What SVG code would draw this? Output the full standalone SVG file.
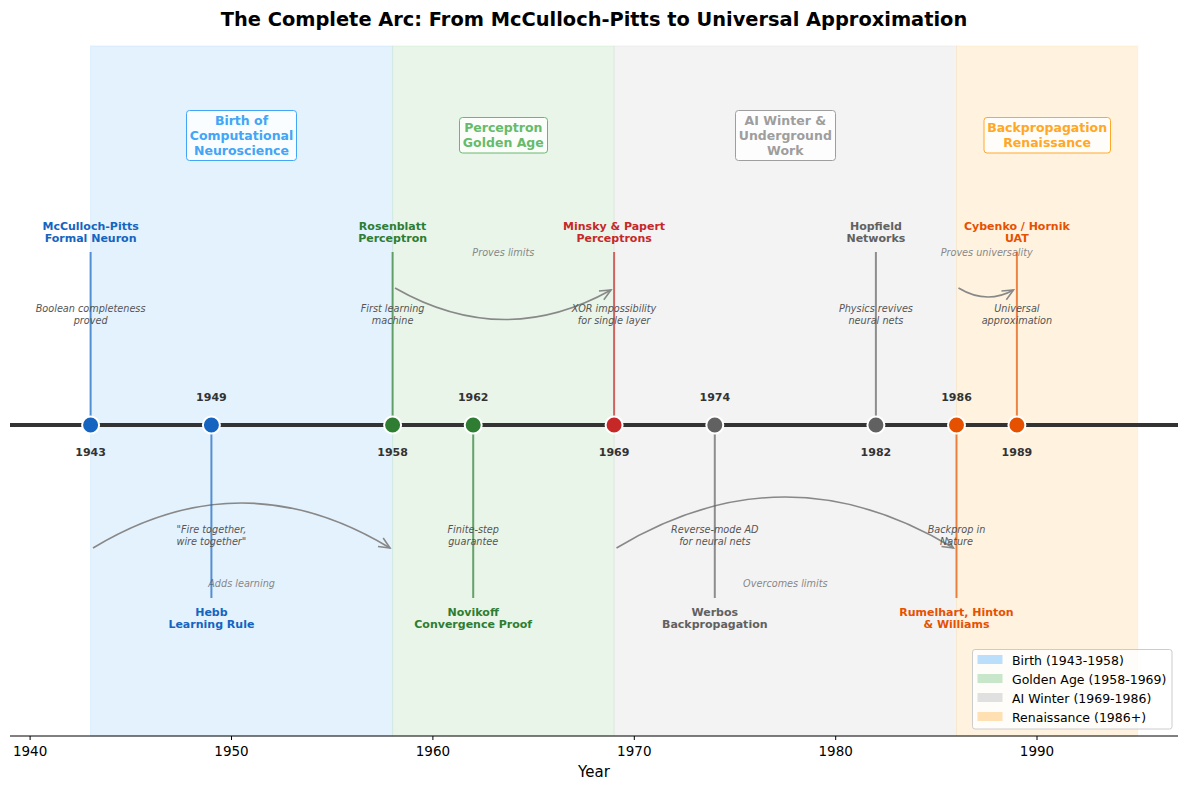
<svg xmlns="http://www.w3.org/2000/svg" width="1188" height="790" viewBox="0 0 1188 790">
<style>
text{font-family:"DejaVu Sans","Liberation Sans",sans-serif}
.title{font-size:19.4px;font-weight:bold;fill:#000}
.lbl{font-size:11px;font-weight:bold;text-anchor:middle}
.desc{font-size:9.7px;font-style:italic;fill:#555;text-anchor:middle}
.yr{font-size:11px;font-weight:bold;fill:#333;text-anchor:middle}
.arcl{font-size:9.7px;font-style:italic;fill:#888;text-anchor:middle}
.era{font-size:12.5px;font-weight:bold;text-anchor:middle}
.tick{font-size:13.5px;fill:#000;text-anchor:middle}
.leg{font-size:12.5px;fill:#000}
.arc{fill:none;stroke:#888;stroke-width:1.6}
.stem{stroke-width:2;stroke-opacity:0.7}
.dot{stroke:#fff;stroke-width:2}
</style>
<defs>
<marker id="ah" markerUnits="userSpaceOnUse" markerWidth="14" markerHeight="14" viewBox="-12 -6 14 12" refX="0" refY="0" orient="auto">
<path d="M-11,-5 L0,0 L-11,5" fill="none" stroke="#888" stroke-width="1.6"/>
</marker>
</defs>
<rect width="1188" height="790" fill="#fff"/>
<text class="title" x="594" y="25.5" text-anchor="middle">The Complete Arc: From McCulloch-Pitts to Universal Approximation</text>

<g id="spans">
<rect x="90.6" y="46" width="302" height="690" fill="#BBDEFB" fill-opacity="0.4" stroke="#BBDEFB" stroke-opacity="0.4"/>
<rect x="392.6" y="46" width="221.5" height="690" fill="#C8E6C9" fill-opacity="0.4" stroke="#C8E6C9" stroke-opacity="0.4"/>
<rect x="614.1" y="46" width="342.4" height="690" fill="#E0E0E0" fill-opacity="0.4" stroke="#E0E0E0" stroke-opacity="0.4"/>
<rect x="956.5" y="46" width="181.2" height="690" fill="#FFE0B2" fill-opacity="0.4" stroke="#FFE0B2" stroke-opacity="0.4"/>
</g>

<g id="axis">
<line x1="10" y1="736" x2="1178" y2="736" stroke="#000" stroke-width="1"/>
<g stroke="#000" stroke-width="1">
<line x1="30.1" y1="736" x2="30.1" y2="740"/>
<line x1="231.5" y1="736" x2="231.5" y2="740"/>
<line x1="432.9" y1="736" x2="432.9" y2="740"/>
<line x1="634.3" y1="736" x2="634.3" y2="740"/>
<line x1="835.7" y1="736" x2="835.7" y2="740"/>
<line x1="1037" y1="736" x2="1037" y2="740"/>
</g>
<text class="tick" x="30.1" y="756">1940</text>
<text class="tick" x="231.5" y="756">1950</text>
<text class="tick" x="432.9" y="756">1960</text>
<text class="tick" x="634.3" y="756">1970</text>
<text class="tick" x="835.7" y="756">1980</text>
<text class="tick" x="1037" y="756">1990</text>
<text x="594" y="777" font-size="15px" text-anchor="middle">Year</text>
</g>

<g id="eras">
<g id="era-birth">
<rect x="186.5" y="110.5" width="110" height="50" rx="3" fill="#fff" fill-opacity="0.8" stroke="#42A5F5" stroke-width="1"/>
<text class="era" fill="#42A5F5"><tspan x="241.5" y="124.5">Birth of</tspan><tspan x="241.5" y="139.5">Computational</tspan><tspan x="241.5" y="154.5">Neuroscience</tspan></text>
</g>
<g id="era-golden">
<rect x="459.5" y="117.5" width="88" height="35.5" rx="3" fill="#fff" fill-opacity="0.8" stroke="#66BB6A" stroke-width="1"/>
<text class="era" fill="#66BB6A"><tspan x="503.3" y="132">Perceptron</tspan><tspan x="503.3" y="147">Golden Age</tspan></text>
</g>
<g id="era-winter">
<rect x="735.5" y="110.5" width="100" height="50" rx="3" fill="#fff" fill-opacity="0.8" stroke="#9E9E9E" stroke-width="1"/>
<text class="era" fill="#9E9E9E"><tspan x="785.3" y="124.5">AI Winter &amp;</tspan><tspan x="785.3" y="139.5">Underground</tspan><tspan x="785.3" y="154.5">Work</tspan></text>
</g>
<g id="era-renaissance">
<rect x="984" y="117.5" width="126.5" height="35.5" rx="3" fill="#fff" fill-opacity="0.8" stroke="#FFA726" stroke-width="1"/>
<text class="era" fill="#FFA726"><tspan x="1047.1" y="132">Backpropagation</tspan><tspan x="1047.1" y="147">Renaissance</tspan></text>
</g>
</g>

<g id="connectors">
<path class="arc" d="M93,548 Q241.6,458 390,548" marker-end="url(#ah)"/>
<path class="arc" d="M395,288 Q503.3,350 611,290" marker-end="url(#ah)"/>
<path class="arc" d="M616.5,548 Q785.3,446 953.5,548" marker-end="url(#ah)"/>
<path class="arc" d="M958.5,288 Q986.7,305 1013.5,290" marker-end="url(#ah)"/>
<text class="arcl" x="241.6" y="587">Adds learning</text>
<text class="arcl" x="503.3" y="256">Proves limits</text>
<text class="arcl" x="785.3" y="587">Overcomes limits</text>
<text class="arcl" x="986.7" y="256">Proves universality</text>
</g>

<g id="stems">
<line class="stem" x1="90.6" y1="252" x2="90.6" y2="425" stroke="#1565C0"/>
<line class="stem" x1="211.4" y1="425" x2="211.4" y2="598" stroke="#1565C0"/>
<line class="stem" x1="392.6" y1="252" x2="392.6" y2="425" stroke="#2E7D32"/>
<line class="stem" x1="473.2" y1="425" x2="473.2" y2="598" stroke="#2E7D32"/>
<line class="stem" x1="614.1" y1="252" x2="614.1" y2="425" stroke="#C62828"/>
<line class="stem" x1="714.8" y1="425" x2="714.8" y2="598" stroke="#616161"/>
<line class="stem" x1="875.9" y1="252" x2="875.9" y2="425" stroke="#616161"/>
<line class="stem" x1="956.5" y1="425" x2="956.5" y2="598" stroke="#E65100"/>
<line class="stem" x1="1016.9" y1="252" x2="1016.9" y2="425" stroke="#E65100"/>
</g>

<line id="timeline" x1="10" y1="425" x2="1178" y2="425" stroke="#333" stroke-width="4"/>

<g id="ev-1943">
<circle class="dot" cx="90.6" cy="425" r="8.5" fill="#1565C0"/>
<text class="yr" x="90.6" y="456">1943</text>
<text class="lbl" fill="#1565C0"><tspan x="90.6" y="230">McCulloch-Pitts</tspan><tspan x="90.6" y="241.5">Formal Neuron</tspan></text>
<text class="desc"><tspan x="90.6" y="312">Boolean completeness</tspan><tspan x="90.6" y="323.5">proved</tspan></text>
</g>
<g id="ev-1949">
<circle class="dot" cx="211.4" cy="425" r="8.5" fill="#1565C0"/>
<text class="yr" x="211.4" y="401">1949</text>
<text class="lbl" fill="#1565C0"><tspan x="211.4" y="616">Hebb</tspan><tspan x="211.4" y="627.5">Learning Rule</tspan></text>
<text class="desc"><tspan x="211.4" y="533">"Fire together,</tspan><tspan x="211.4" y="544.5">wire together"</tspan></text>
</g>
<g id="ev-1958">
<circle class="dot" cx="392.6" cy="425" r="8.5" fill="#2E7D32"/>
<text class="yr" x="392.6" y="456">1958</text>
<text class="lbl" fill="#2E7D32"><tspan x="392.6" y="230">Rosenblatt</tspan><tspan x="392.6" y="241.5">Perceptron</tspan></text>
<text class="desc"><tspan x="392.6" y="312">First learning</tspan><tspan x="392.6" y="323.5">machine</tspan></text>
</g>
<g id="ev-1962">
<circle class="dot" cx="473.2" cy="425" r="8.5" fill="#2E7D32"/>
<text class="yr" x="473.2" y="401">1962</text>
<text class="lbl" fill="#2E7D32"><tspan x="473.2" y="616">Novikoff</tspan><tspan x="473.2" y="627.5">Convergence Proof</tspan></text>
<text class="desc"><tspan x="473.2" y="533">Finite-step</tspan><tspan x="473.2" y="544.5">guarantee</tspan></text>
</g>
<g id="ev-1969">
<circle class="dot" cx="614.1" cy="425" r="8.5" fill="#C62828"/>
<text class="yr" x="614.1" y="456">1969</text>
<text class="lbl" fill="#C62828"><tspan x="614.1" y="230">Minsky &amp; Papert</tspan><tspan x="614.1" y="241.5">Perceptrons</tspan></text>
<text class="desc"><tspan x="614.1" y="312">XOR impossibility</tspan><tspan x="614.1" y="323.5">for single layer</tspan></text>
</g>
<g id="ev-1974">
<circle class="dot" cx="714.8" cy="425" r="8.5" fill="#616161"/>
<text class="yr" x="714.8" y="401">1974</text>
<text class="lbl" fill="#616161"><tspan x="714.8" y="616">Werbos</tspan><tspan x="714.8" y="627.5">Backpropagation</tspan></text>
<text class="desc"><tspan x="714.8" y="533">Reverse-mode AD</tspan><tspan x="714.8" y="544.5">for neural nets</tspan></text>
</g>
<g id="ev-1982">
<circle class="dot" cx="875.9" cy="425" r="8.5" fill="#616161"/>
<text class="yr" x="875.9" y="456">1982</text>
<text class="lbl" fill="#616161"><tspan x="875.9" y="230">Hopfield</tspan><tspan x="875.9" y="241.5">Networks</tspan></text>
<text class="desc"><tspan x="875.9" y="312">Physics revives</tspan><tspan x="875.9" y="323.5">neural nets</tspan></text>
</g>
<g id="ev-1986">
<circle class="dot" cx="956.5" cy="425" r="8.5" fill="#E65100"/>
<text class="yr" x="956.5" y="401">1986</text>
<text class="lbl" fill="#E65100"><tspan x="956.5" y="616">Rumelhart, Hinton</tspan><tspan x="956.5" y="627.5">&amp; Williams</tspan></text>
<text class="desc"><tspan x="956.5" y="533">Backprop in</tspan><tspan x="956.5" y="544.5">Nature</tspan></text>
</g>
<g id="ev-1989">
<circle class="dot" cx="1016.9" cy="425" r="8.5" fill="#E65100"/>
<text class="yr" x="1016.9" y="456">1989</text>
<text class="lbl" fill="#E65100"><tspan x="1016.9" y="230">Cybenko / Hornik</tspan><tspan x="1016.9" y="241.5">UAT</tspan></text>
<text class="desc"><tspan x="1016.9" y="312">Universal</tspan><tspan x="1016.9" y="323.5">approximation</tspan></text>
</g>

<g id="legend">
<rect x="972.5" y="649.5" width="199.5" height="79.5" rx="2.5" fill="#fff" fill-opacity="0.8" stroke="#ccc" stroke-width="1"/>
<rect x="977.5" y="655" width="25" height="9" fill="#BBDEFB"/>
<rect x="977.5" y="674" width="25" height="9" fill="#C8E6C9"/>
<rect x="977.5" y="693" width="25" height="9" fill="#E0E0E0"/>
<rect x="977.5" y="712" width="25" height="9" fill="#FFE0B2"/>
<text class="leg" x="1012" y="664.5">Birth (1943-1958)</text>
<text class="leg" x="1012" y="683.5">Golden Age (1958-1969)</text>
<text class="leg" x="1012" y="702.5">AI Winter (1969-1986)</text>
<text class="leg" x="1012" y="721.5">Renaissance (1986+)</text>
</g>
</svg>
